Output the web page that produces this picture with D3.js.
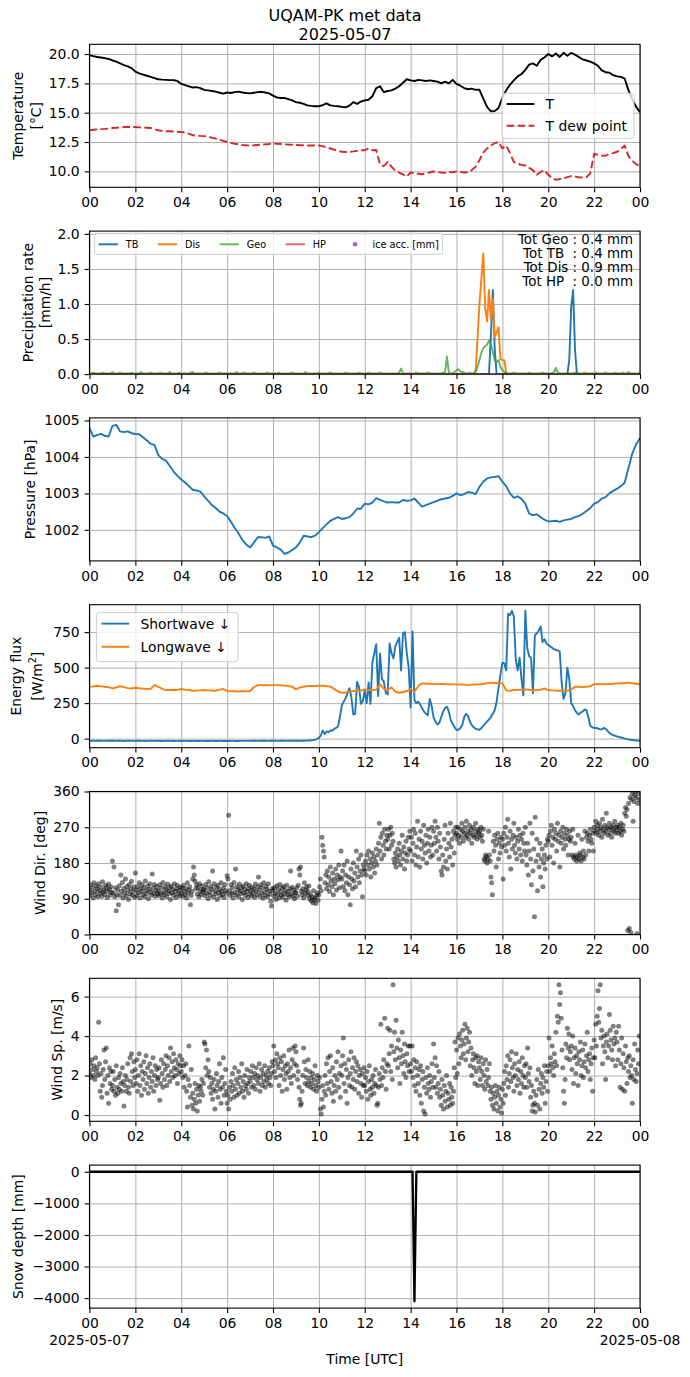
<!DOCTYPE html>
<html>
<head>
<meta charset="utf-8">
<script src="https://cdn.jsdelivr.net/npm/d3@7"></script>
<style>
  body { margin: 0; background: #fff; }
  svg text { font-family: "DejaVu Sans", sans-serif; fill: #000; }
</style>
</head>
<body>
<div id="chart"></div>
<script>
// ---- data: one row per hour, samples evenly spaced inside the hour ----

// air temperature [°C], 10-min
const tempC = [
  [19.90,19.82,19.75,19.70,19.65,19.58],[19.45,19.35,19.20,19.05,18.95,18.80],
  [18.50,18.35,18.25,18.15,18.05,17.95],[17.85,17.82,17.80,17.78,17.78,17.70],
  [17.45,17.35,17.25,17.15,17.18,17.10],[16.95,16.90,16.85,16.80,16.70,16.62],
  [16.72,16.68,16.75,16.80,16.72,16.68],[16.65,16.70,16.75,16.78,16.72,16.65],
  [16.45,16.30,16.25,16.25,16.15,16.05],[15.90,15.85,15.75,15.62,15.58,15.55],
  [15.55,15.65,15.80,15.62,15.58,15.55],[15.50,15.45,15.60,15.90,15.75,15.95],
  [16.05,16.10,16.40,17.10,17.25,16.75],[16.85,16.90,17.05,17.25,17.55,17.85],
  [17.75,17.70,17.80,17.75,17.70,17.75],[17.70,17.65,17.50,17.65,17.50,17.80],
  [17.45,17.30,17.10,17.00,17.05,16.95],[16.95,16.20,15.50,15.12,15.15,15.40],
  [16.30,16.90,17.40,17.75,18.10,18.30],[18.65,19.10,19.20,19.00,19.50,19.70],
  [20.00,19.80,20.05,19.75,20.10,19.85],[20.10,19.95,19.75,19.55,19.45,19.35],
  [19.20,19.00,18.60,18.45,18.40,18.20],[18.10,18.05,17.90,16.90,16.10,15.50],
  [15.05]
];
// dew point [°C], 10-min
const dewC = [
  [13.50,13.55,13.58,13.60,13.62,13.65],[13.70,13.72,13.75,13.78,13.78,13.77],
  [13.78,13.75,13.73,13.72,13.70,13.60],[13.50,13.45,13.42,13.42,13.40,13.38],
  [13.36,13.30,13.20,13.08,13.05,13.02],[13.00,12.95,12.88,12.80,12.70,12.60],
  [12.50,12.42,12.35,12.30,12.25,12.22],[12.20,12.22,12.25,12.28,12.30,12.33],
  [12.37,12.35,12.33,12.30,12.28,12.27],[12.25,12.23,12.22,12.20,12.20,12.20],
  [12.20,12.15,12.05,11.95,11.85,11.75],[11.67,11.65,11.67,11.70,11.75,11.80],
  [11.80,11.95,11.80,11.82,10.60,10.45],[10.80,10.40,10.05,9.90,9.75,9.55],
  [9.90,9.85,9.80,9.75,9.85,9.90],[10.00,9.95,9.90,9.88,9.95,9.92],
  [10.00,9.95,9.90,9.92,10.10,10.40],[10.95,11.60,11.95,12.20,12.40,12.50],
  [11.95,12.20,11.55,10.80,10.65,10.55],[10.50,10.30,10.10,9.70,9.95,10.10],
  [9.70,9.45,9.27,9.35,9.40,9.50],[9.60,9.55,9.50,9.47,9.52,9.83],
  [11.50,11.40,11.35,11.33,11.50,11.55],[11.67,11.90,12.20,11.30,10.90,10.60],
  [10.45]
];

// precipitation rate [mm/h], 5-min
const precipTB = [
  [0,0,0,0,0,0,0,0,0,0,0,0],[0,0,0,0,0,0,0,0,0,0,0,0],[0,0,0,0,0,0,0,0,0,0,0,0],
  [0,0,0,0,0,0,0,0,0,0,0,0],[0,0,0,0,0,0,0,0,0,0,0,0],[0,0,0,0,0,0,0,0,0,0,0,0],
  [0,0,0,0,0,0,0,0,0,0,0,0],[0,0,0,0,0,0,0,0,0,0,0,0],[0,0,0,0,0,0,0,0,0,0,0,0],
  [0,0,0,0,0,0,0,0,0,0,0,0],[0,0,0,0,0,0,0,0,0,0,0,0],[0,0,0,0,0,0,0,0,0,0,0,0],
  [0,0,0,0,0,0,0,0,0,0,0,0],[0,0,0,0,0,0,0,0,0,0,0,0],[0,0,0,0,0,0,0,0,0,0,0,0],
  [0,0,0,0,0,0,0,0,0,0,0,0],[0,0,0,0,0,0,0,0,0,0,0,0],
  [0,0,0,0,0,0,0.55,1.2,0.35,0,0,0],
  [0,0,0,0,0,0,0,0,0,0,0,0],[0,0,0,0,0,0,0,0,0,0,0,0],
  [0,0,0,0,0,0,0,0,0,0,0,0.2],[0.95,1.2,0.35,0,0,0,0,0,0,0,0,0],
  [0,0,0,0,0,0,0,0,0,0,0,0],[0,0,0,0,0,0,0,0,0,0,0,0],
  [0]
];
const precipDis = [
  [0,0,0,0,0,0,0,0,0,0,0,0],[0,0,0,0,0,0,0,0,0,0,0,0],[0,0,0,0,0,0,0,0,0,0,0,0],
  [0,0,0,0,0,0,0,0,0,0,0,0],[0,0,0,0,0,0,0,0,0,0,0,0],[0,0,0,0,0,0,0,0,0,0,0,0],
  [0,0,0,0,0,0,0,0,0,0,0,0],[0,0,0,0,0,0,0,0,0,0,0,0],[0,0,0,0,0,0,0,0,0,0,0,0],
  [0,0,0,0,0,0,0,0,0,0,0,0],[0,0,0,0,0,0,0,0,0,0,0,0],[0,0,0,0,0,0,0,0,0,0,0,0],
  [0,0,0,0,0,0,0,0,0,0,0,0],[0,0,0,0,0,0,0,0,0,0,0,0],[0,0,0,0,0,0,0,0,0,0,0,0],
  [0,0,0,0,0,0,0,0,0,0,0,0],
  [0,0,0,0,0,0,0,0,0,0,0.05,0.5],
  [1.0,1.35,1.72,0.95,0.75,1.2,0.77,1.08,0.53,0.6,0.67,0.21],
  [0.2,0.2,0.02,0,0,0,0,0,0,0,0,0],
  [0,0,0,0,0,0,0,0,0,0,0,0],[0,0,0,0,0,0,0,0,0,0,0,0],[0,0,0,0,0,0,0,0,0,0,0,0],
  [0,0,0,0,0,0,0,0,0,0,0,0],[0,0,0,0,0,0,0,0,0,0,0,0],
  [0]
];
const precipGeo = [
  [0.01,0.01,0.02,0.01,0.01,0.01,0.01,0.02,0.01,0.01,0.01,0.01],
  [0.03,0.01,0.01,0.01,0.02,0.01,0.01,0.01,0.01,0.01,0.02,0.01],
  [0.01,0.01,0.01,0.03,0.01,0.01,0.01,0.01,0.02,0.01,0.01,0.01],
  [0.01,0.02,0.01,0.01,0.01,0.01,0.03,0.01,0.01,0.01,0.01,0.02],
  [0.01,0.01,0.01,0.01,0.01,0.02,0.03,0.01,0.01,0.01,0.01,0.01],
  [0.01,0.02,0.01,0.01,0.01,0.01,0.01,0.01,0.02,0.01,0.01,0.01],
  [0.01,0.01,0.01,0.01,0.01,0.03,0.01,0.01,0.01,0.02,0.01,0.01],
  [0.01,0.01,0.02,0.01,0.01,0.01,0.01,0.01,0.01,0.02,0.01,0.01],
  [0.01,0.01,0.01,0.02,0.01,0.01,0.01,0.01,0.01,0.01,0.02,0.01],
  [0.01,0.01,0.01,0.01,0.01,0.03,0.01,0.01,0.01,0.01,0.01,0.01],
  [0.02,0.01,0.01,0.01,0.01,0.01,0.02,0.01,0.01,0.01,0.01,0.01],
  [0.01,0.01,0.02,0.01,0.01,0.01,0.01,0.01,0.01,0.02,0.01,0.01],
  [0.01,0.01,0.02,0.01,0.01,0.01,0.01,0.01,0.02,0.01,0.01,0.01],
  [0.01,0.01,0.01,0.01,0.01,0.01,0.02,0.08,0.01,0.01,0.01,0.01],
  [0.01,0.01,0.01,0.02,0.01,0.01,0.01,0.01,0.01,0.02,0.01,0.01],
  [0.01,0.01,0.01,0.01,0.01,0.02,0.02,0.25,0.02,0.01,0.01,0.03],
  [0.05,0.07,0.04,0.03,0.02,0.01,0.01,0.02,0.01,0.01,0.03,0.1],
  [0.2,0.3,0.37,0.4,0.42,0.48,0.42,0.32,0.2,0.17,0.2,0.1],
  [0.06,0.03,0.01,0.01,0.01,0.01,0.02,0.01,0.01,0.01,0.01,0.01],
  [0.01,0.01,0.02,0.01,0.01,0.01,0.01,0.01,0.01,0.02,0.01,0.01],
  [0.01,0.01,0.01,0.03,0.09,0.02,0.01,0.01,0.01,0.01,0.01,0.01],
  [0.01,0.01,0.02,0.01,0.01,0.01,0.01,0.02,0.01,0.01,0.01,0.01],
  [0.01,0.02,0.01,0.01,0.01,0.01,0.02,0.01,0.01,0.01,0.01,0.02],
  [0.01,0.01,0.01,0.02,0.01,0.01,0.03,0.01,0.01,0.01,0.01,0.01],
  [0.01]
];
const precipHP = [
  [0,0,0,0,0,0,0,0,0,0,0,0],[0,0,0,0,0,0,0,0,0,0,0,0],[0,0,0,0,0,0,0,0,0,0,0,0],
  [0,0,0,0,0,0,0,0,0,0,0,0],[0,0,0,0,0,0,0,0,0,0,0,0],[0,0,0,0,0,0,0,0,0,0,0,0],
  [0,0,0,0,0,0,0,0,0,0,0,0],[0,0,0,0,0,0,0,0,0,0,0,0],[0,0,0,0,0,0,0,0,0,0,0,0],
  [0,0,0,0,0,0,0,0,0,0,0,0],[0,0,0,0,0,0,0,0,0,0,0,0],[0,0,0,0,0,0,0,0,0,0,0,0],
  [0,0,0,0,0,0,0,0,0,0,0,0],[0,0,0,0,0,0,0,0,0,0,0,0],[0,0,0,0,0,0,0,0,0,0,0,0],
  [0,0,0,0,0,0,0,0,0,0,0,0],[0,0,0,0,0,0,0,0,0,0,0,0],[0,0,0,0,0,0,0,0,0,0,0,0],
  [0,0,0,0,0,0,0,0,0,0,0,0],[0,0,0,0,0,0,0,0,0,0,0,0],[0,0,0,0,0,0,0,0,0,0,0,0],
  [0,0,0,0,0,0,0,0,0,0,0,0],[0,0,0,0,0,0,0,0,0,0,0,0],[0,0,0,0,0,0,0,0,0,0,0,0],
  [0]
];
const precipTotals = ['Tot Geo : 0.4 mm', 'Tot TB  : 0.4 mm', 'Tot Dis : 0.9 mm', 'Tot HP  : 0.0 mm'];

// station pressure [hPa], 10-min
const pressure = [
  [1004.79,1004.56,1004.60,1004.63,1004.58,1004.56],[1004.85,1004.88,1004.70,1004.68,1004.70,1004.65],
  [1004.63,1004.62,1004.54,1004.45,1004.36,1004.33],[1004.05,1003.95,1003.90,1003.75,1003.60,1003.48],
  [1003.38,1003.30,1003.20,1003.10,1003.08,1003.05],[1002.92,1002.80,1002.68,1002.60,1002.50,1002.45],
  [1002.38,1002.22,1002.05,1001.90,1001.72,1001.60],[1001.52,1001.65,1001.80,1001.80,1001.78,1001.82],
  [1001.57,1001.52,1001.46,1001.34,1001.38,1001.45],[1001.52,1001.65,1001.84,1001.82,1001.80,1001.84],
  [1001.94,1002.05,1002.15,1002.25,1002.30,1002.35],[1002.30,1002.32,1002.35,1002.45,1002.58,1002.58],
  [1002.72,1002.70,1002.75,1002.87,1002.82,1002.78],[1002.75,1002.76,1002.75,1002.75,1002.82,1002.80],
  [1002.81,1002.86,1002.75,1002.64,1002.68,1002.72],[1002.76,1002.80,1002.84,1002.86,1002.88,1002.93],
  [1003.00,1002.95,1002.98,1003.04,1003.02,1002.98],[1003.18,1003.32,1003.41,1003.44,1003.45,1003.47],
  [1003.32,1003.20,1003.00,1002.88,1002.92,1002.85],[1002.72,1002.45,1002.40,1002.43,1002.35,1002.28],
  [1002.23,1002.24,1002.25,1002.22,1002.26,1002.28],[1002.30,1002.35,1002.38,1002.44,1002.52,1002.60],
  [1002.72,1002.76,1002.86,1002.90,1003.00,1003.07],[1003.13,1003.20,1003.30,1003.70,1004.10,1004.35],
  [1004.52]
];

// incoming shortwave [W/m2], 5-min
const shortwave = [
  [-14,-15,-15,-16,-15,-14,-15,-16,-16,-15,-15,-14],[-15,-16,-16,-15,-15,-16,-17,-16,-15,-15,-16,-16],
  [-16,-15,-15,-16,-16,-17,-16,-16,-15,-16,-16,-15],[-16,-17,-17,-16,-16,-15,-16,-16,-17,-16,-16,-16],
  [-17,-16,-16,-16,-17,-17,-16,-16,-17,-17,-16,-16],[-16,-17,-17,-16,-16,-16,-17,-17,-16,-16,-17,-17],
  [-17,-17,-16,-16,-17,-17,-17,-16,-16,-16,-16,-16],[-16,-16,-15,-15,-16,-16,-15,-15,-15,-16,-16,-15],
  [-15,-15,-16,-16,-15,-15,-15,-16,-16,-15,-15,-15],[-15,-15,-16,-15,-15,-14,-14,-13,-12,-10,-7,-3],
  [5,22,58,32,50,45,58,55,68,75,85,150],
  [235,260,285,320,355,290,170,175,400,365,245,265],
  [340,250,395,245,540,600,665,300,600,420,400,320],
  [310,670,600,565,650,680,710,480,740,750,600,500],
  [220,755,270,250,260,240,215,190,175,165,280,230],
  [150,120,100,110,150,190,215,225,190,130,105,80],
  [60,62,75,95,150,175,160,120,95,80,70,65],
  [62,75,90,105,120,135,150,175,200,260,360,450],
  [535,530,480,880,870,900,860,560,480,570,420,305],
  [900,640,580,570,320,730,740,760,790,680,700,670],
  [660,650,640,630,625,620,615,400,280,320,500,420],
  [250,230,200,180,170,185,190,205,200,150,90,80],
  [75,75,72,65,65,75,70,55,40,30,25,20],
  [15,12,8,5,0,-2,-5,-8,-10,-12,-13,-14],
  [-15]
];
// incoming longwave [W/m2], 10-min
const longwave = [
  [365,368,372,368,365,362],[354,360,370,362,355,354],[358,355,352,349,350,378],
  [365,350,342,342,342,343],[349,345,342,337,338,340],[342,340,338,337,345,349],
  [336,334,333,332,333,334],[335,362,377,377,376,377],[377,377,376,373,370,365],
  [347,360,365,370,370,371],[372,372,370,366,350,332],[323,325,330,335,337,338],
  [347,342,342,345,382,350],[342,361,330,323,328,335],[349,330,370,389,388,386],
  [384,384,385,384,383,382],[382,381,380,377,380,382],[382,385,390,394,392,390],
  [389,340,337,342,343,345],[347,344,342,341,345,354],[342,340,338,337,336,338],
  [347,365,365,363,365,370],[384,385,384,384,385,386],[389,390,392,394,390,386],
  [382]
];

// wind direction [deg], 2-min
const windDir = [
  [112,98,125,105,118,92,130,108,100,122,115,95,128,110,104,119,96,133,107,112,101,124,118,93,109,127,114,99,120,106],
  [185,105,170,95,118,60,100,112,75,123,98,150,109,131,92,116,104,140,97,121,110,88,126,102,115,134,99,108,120,94],
  [155,112,98,120,105,130,92,115,108,125,100,118,95,135,110,103,122,90,114,128,107,99,152,117,104,126,96,111,121,102],
  [110,98,125,104,117,92,131,106,100,120,113,95,127,109,103,118,88,122,105,114,99,128,108,93,116,124,102,111,97,119],
  [105,118,96,124,109,100,115,92,130,104,112,120,75,98,108,140,170,150,135,115,125,102,118,95,128,110,100,122,107,114],
  [112,98,126,104,118,90,133,107,99,121,114,160,95,128,109,102,119,88,124,106,113,97,130,108,101,117,93,126,110,104],
  [148,140,300,110,98,125,104,118,92,131,106,165,100,120,113,95,127,109,103,118,88,122,105,114,99,128,108,93,116,124],
  [102,111,97,119,105,115,94,127,108,100,120,145,112,96,125,104,118,91,130,107,99,121,114,95,128,109,102,84,72,116],
  [110,96,118,104,88,123,101,113,92,126,107,99,117,94,121,103,111,86,124,100,108,95,115,160,102,119,97,112,90,106],
  [105,118,96,124,165,150,170,109,100,115,92,130,104,112,120,98,108,122,90,100,85,95,80,110,88,92,78,98,105,86],
  [100,120,140,110,245,225,210,195,130,150,115,160,125,145,108,170,135,120,155,100,140,128,165,112,150,138,175,118,145,210],
  [140,160,120,175,110,150,130,185,100,145,125,75,165,140,115,180,135,155,120,210,170,145,190,130,160,200,150,95,175,165],
  [160,185,150,200,175,210,165,190,145,180,205,170,195,155,185,215,175,200,230,280,210,245,190,255,225,200,265,235,215,250],
  [240,265,215,250,270,225,255,235,190,180,205,170,195,215,185,230,200,175,210,250,190,220,165,205,235,185,200,245,215,260],
  [210,245,185,230,265,200,255,175,220,285,195,240,170,260,215,235,190,275,225,205,250,180,230,265,210,245,195,225,270,200],
  [260,230,285,245,210,270,235,190,255,220,160,150,200,170,240,275,185,215,165,255,230,195,280,220,240,175,260,205,250,270],
  [255,240,270,250,230,265,245,280,260,235,255,270,245,285,250,260,240,275,255,265,230,250,270,245,260,280,250,240,265,255],
  [260,245,270,250,235,265,190,185,200,195,180,190,260,200,185,145,130,100,235,210,250,225,170,240,255,190,230,205,245,220],
  [240,140,255,225,270,210,245,290,230,195,260,165,240,215,250,280,225,205,245,190,235,265,215,250,200,240,185,255,230,210],
  [270,200,175,230,150,210,280,190,125,255,160,215,45,295,185,240,110,200,170,230,145,190,215,120,180,200,165,225,190,240],
  [235,250,195,260,275,225,245,180,265,240,255,210,280,235,250,170,260,230,245,270,215,255,240,225,265,250,200,240,260,235],
  [245,200,265,195,190,230,200,185,195,250,190,205,200,185,240,195,210,190,260,200,245,255,235,210,250,265,240,230,255,210],
  [270,260,285,255,275,265,250,280,260,270,245,290,265,255,275,260,305,270,250,265,280,255,270,245,265,275,260,285,255,270],
  [265,275,255,270,260,280,250,265,275,260,305,320,298,315,10,330,15,345,5,340,355,285,335,350,360,345,2,330,355,340]
];
// wind speed [m/s], 2-min
const windSpd = [
  [2.1,2.6,1.9,2.8,2.3,2.0,2.5,1.8,2.9,2.2,2.4,2.0,4.7,2.6,1.2,2.1,0.9,1.5,2.3,3.3,1.8,2.7,3.4,1.1,2.0,0.6,2.4,1.6,2.2,1.3],
  [1.5,2.2,1.2,1.8,1.0,2.5,1.4,1.1,1.9,1.3,2.1,1.6,1.2,2.4,1.7,0.45,1.5,2.0,1.2,1.8,2.6,1.4,1.1,2.9,1.7,3.1,2.2,1.5,2.7,1.9],
  [2.3,1.6,2.8,1.2,2.0,3.1,1.5,2.5,1.0,2.2,1.8,2.7,1.3,2.1,3.0,1.6,2.4,1.1,1.9,2.6,1.4,2.2,1.7,2.9,1.2,2.0,2.5,1.5,2.3,1.8],
  [1.9,2.4,0.75,1.6,2.8,2.1,1.4,2.6,1.8,2.3,3.0,1.5,2.5,2.0,2.9,1.7,3.4,2.2,2.7,1.9,3.1,2.4,2.0,2.8,2.3,1.6,2.6,2.1,3.0,2.5],
  [2.2,2.8,1.9,2.5,1.4,2.0,2.6,1.2,0.4,1.8,3.5,1.5,0.9,2.3,0.5,1.1,0.3,0.8,1.6,0.6,1.3,0.2,1.0,1.5,0.7,1.4,1.2,1.8,1.0,1.6],
  [3.7,3.6,2.4,3.3,2.0,2.8,2.2,1.4,1.9,1.1,1.6,0.8,1.3,1.8,0.3,1.2,2.1,1.5,0.9,1.7,2.6,1.3,0.6,1.9,1.4,2.9,1.0,1.6,2.3,1.2],
  [0.6,1.0,0.3,1.4,0.8,1.7,1.2,2.1,1.5,0.9,2.4,1.3,1.8,1.0,1.6,2.2,1.1,1.9,1.4,2.6,1.2,1.7,0.9,2.0,1.5,1.3,2.3,1.6,1.1,1.9],
  [1.7,2.2,1.4,2.5,1.9,1.5,2.1,1.3,2.4,1.8,2.0,1.6,2.6,1.2,1.9,2.3,1.5,2.1,1.7,2.5,1.4,2.0,1.8,2.2,1.6,2.4,1.9,1.5,2.1,2.7],
  [2.5,3.5,2.2,2.8,1.9,3.1,2.6,2.4,1.5,2.9,2.0,2.7,1.2,2.3,3.0,1.8,2.5,2.1,1.3,2.6,2.2,3.3,1.9,2.4,1.6,2.8,3.4,2.0,2.6,3.5],
  [3.2,2.5,1.8,2.2,1.4,0.8,0.5,0.6,1.2,2.0,3.4,2.7,1.6,2.3,1.9,1.5,2.8,1.7,2.2,1.4,1.9,1.6,2.1,1.3,1.8,2.5,1.5,1.2,2.0,1.7],
  [1.4,1.9,0.3,0.05,0.8,1.5,0.4,1.2,2.0,1.0,2.6,1.6,2.9,1.3,2.2,3.0,1.7,1.1,2.4,0.7,1.5,2.0,1.2,2.7,1.8,3.2,1.4,2.1,0.9,2.5],
  [2.0,3.0,3.9,1.6,2.6,1.2,2.3,0.6,1.9,2.8,1.5,2.1,3.2,1.4,2.4,1.8,2.9,1.3,2.2,2.7,1.7,2.5,1.1,2.0,2.3,1.6,0.9,2.1,1.5,2.4],
  [1.5,1.9,1.2,2.2,0.8,1.7,2.5,1.3,1.0,1.8,1.4,2.0,1.1,1.6,2.3,1.5,0.5,0.6,1.4,2.1,1.8,4.6,1.5,2.4,1.9,2.8,4.9,2.2,1.3,2.6],
  [4.4,2.5,3.1,4.3,2.2,3.5,1.8,6.6,3.2,4.2,2.8,4.8,3.4,2.4,3.8,2.9,1.6,3.3,2.6,4.2,3.0,2.1,3.6,2.7,1.9,3.1,2.5,3.5,2.2,3.5],
  [2.6,2.2,3.5,1.9,2.8,1.5,2.4,1.2,2.7,2.0,1.6,2.3,1.0,2.5,0.6,1.8,2.2,0.2,1.4,0.05,1.9,1.1,2.4,1.6,1.3,2.0,0.9,1.7,2.6,1.4],
  [3.6,1.9,2.9,1.4,2.5,1.1,1.6,2.2,0.9,1.3,0.5,1.8,1.0,0.3,1.5,0.7,1.2,2.0,0.4,1.1,0.8,1.6,0.5,1.4,0.9,0.6,1.2,2.4,3.7,1.9],
  [3.3,2.1,3.9,2.6,4.1,3.5,2.9,3.8,4.3,3.1,3.6,4.6,2.8,3.9,4.4,3.2,3.7,4.2,2.5,3.4,2.0,2.8,3.1,2.4,1.6,2.9,2.2,3.0,1.5,2.7],
  [2.4,1.8,2.9,2.2,1.5,2.6,2.0,1.3,2.8,1.7,2.3,1.5,1.9,2.6,1.2,0.8,1.4,0.5,1.1,0.3,0.9,1.5,0.6,1.2,0.2,1.0,1.4,0.4,0.8,0.1],
  [1.3,0.6,1.6,2.2,1.0,2.5,1.8,3.0,1.4,2.1,2.8,1.7,3.2,2.4,1.9,1.2,2.6,2.0,3.1,1.5,2.3,1.8,2.7,1.1,2.2,1.6,2.9,2.0,1.4,2.5],
  [1.9,2.6,1.4,3.4,2.1,1.7,2.4,0.9,1.5,0.2,0.5,1.2,0.6,0.15,1.0,1.8,0.5,2.3,1.3,0.3,1.6,2.1,1.1,1.9,1.4,2.5,0.6,1.7,2.2,1.2],
  [2.5,3.9,2.2,2.9,2.6,3.5,2.4,2.0,3.1,2.7,4.2,2.5,5.0,4.7,6.6,5.6,6.2,4.9,3.3,2.4,1.2,0.6,1.8,3.6,2.9,4.4,3.4,4.1,2.8,3.2],
  [3.5,2.3,4.0,1.6,2.9,3.4,2.1,3.0,2.6,1.5,3.2,2.8,3.7,2.0,2.5,3.3,1.9,2.7,3.6,2.4,3.0,4.2,2.2,2.8,3.1,1.8,2.6,3.4,1.2,2.9],
  [3.8,2.9,4.6,3.5,5.0,6.3,4.7,5.4,6.6,3.9,4.3,2.6,3.5,4.0,3.2,1.8,3.7,4.1,2.9,3.5,5.1,4.3,3.8,3.3,2.8,4.5,3.6,3.9,2.5,4.2],
  [3.7,2.8,4.5,3.3,1.4,2.6,3.9,1.3,3.1,2.4,1.2,3.5,2.7,1.6,2.9,2.2,3.0,1.9,2.5,2.0,0.6,2.8,1.8,3.6,2.3,1.7,2.1,3.3,2.6,4.0]
];

// snow depth [mm], 5-min
const snowDepth = [
  [0,0,0,0,0,0,0,0,0,0,0,0],[0,0,0,0,0,0,0,0,0,0,0,0],[0,0,0,0,0,0,0,0,0,0,0,0],
  [0,0,0,0,0,0,0,0,0,0,0,0],[0,0,0,0,0,0,0,0,0,0,0,0],[0,0,0,0,0,0,0,0,0,0,0,0],
  [0,0,0,0,0,0,0,0,0,0,0,0],[0,0,0,0,0,0,0,0,0,0,0,0],[0,0,0,0,0,0,0,0,0,0,0,0],
  [0,0,0,0,0,0,0,0,0,0,0,0],[0,0,0,0,0,0,0,0,0,0,0,0],[0,0,0,0,0,0,0,0,0,0,0,0],
  [0,0,0,0,0,0,0,0,0,0,0,0],[0,0,0,0,0,0,0,0,0,0,0,0],
  [0,0,-4100,0,0,0,0,0,0,0,0,0],
  [0,0,0,0,0,0,0,0,0,0,0,0],[0,0,0,0,0,0,0,0,0,0,0,0],[0,0,0,0,0,0,0,0,0,0,0,0],
  [0,0,0,0,0,0,0,0,0,0,0,0],[0,0,0,0,0,0,0,0,0,0,0,0],[0,0,0,0,0,0,0,0,0,0,0,0],
  [0,0,0,0,0,0,0,0,0,0,0,0],[0,0,0,0,0,0,0,0,0,0,0,0],[0,0,0,0,0,0,0,0,0,0,0,0],
  [0]
];

// axis limits and tick values
const yLimits = [[8.64, 20.83], [0, 2.04], [1001.15, 1005.07], [-64, 943], [0, 360], [-0.32, 6.93], [-4316, 211]];
const yTicks = [[10, 12.5, 15, 17.5, 20], [0, 0.5, 1, 1.5, 2], [1002, 1003, 1004, 1005],
                [0, 250, 500, 750], [0, 90, 180, 270, 360], [0, 2, 4, 6], [-4000, -3000, -2000, -1000, 0]];

// ---- layout ----
const W = 690, H = 1377;
const X0 = 89.5, X1 = 640, TOP0 = 44.3, STEP = 186.8, PH = 143;
const FONT = '"DejaVu Sans", sans-serif';
const FS = 13.9;
const day0 = Date.UTC(2025, 4, 7), day1 = Date.UTC(2025, 4, 8);

const svg = d3.select('#chart').append('svg')
    .attr('width', W).attr('height', H)
    .attr('font-family', FONT);

const x = d3.scaleUtc().domain([day0, day1]).range([X0, X1]);

// turn hourly rows into {t, v} points
function series(rows) {
    return rows.flatMap((r, h) => r.map((v, j) => ({ t: new Date(day0 + (h + j / r.length) * 3600e3), v: v })));
}

function panel(i, fmt) {
    const top = TOP0 + STEP * i, bot = top + PH;
    const y = d3.scaleLinear().domain(yLimits[i]).range([bot, top]);
    const g = svg.append('g');

    svg.append('clipPath').attr('id', 'clip' + i)
        .append('rect').attr('x', X0).attr('y', top).attr('width', X1 - X0).attr('height', PH);

    // grid
    const gx = g.append('g').attr('transform', `translate(0,${bot})`)
        .call(d3.axisBottom(x).ticks(d3.utcHour.every(2)).tickSize(-PH).tickFormat(''));
    const gy = g.append('g').attr('transform', `translate(${X0},0)`)
        .call(d3.axisLeft(y).tickValues(yTicks[i]).tickSize(-(X1 - X0)).tickFormat(''));
    [gx, gy].forEach(a => {
        a.select('.domain').remove();
        a.selectAll('line').attr('stroke', '#b0b0b0').attr('stroke-width', 1);
    });

    const plot = g.append('g').attr('clip-path', `url(#clip${i})`);

    // axes
    const ax = g.append('g').attr('transform', `translate(0,${bot})`)
        .call(d3.axisBottom(x).ticks(d3.utcHour.every(2)).tickFormat(d3.utcFormat('%H')).tickSize(4.9).tickPadding(4.9));
    const ay = g.append('g').attr('transform', `translate(${X0},0)`)
        .call(d3.axisLeft(y).tickValues(yTicks[i]).tickFormat(fmt).tickSize(4.9).tickPadding(4.9));
    [ax, ay].forEach(a => {
        a.attr('font-family', FONT).attr('font-size', FS);
        a.select('.domain').remove();
        a.selectAll('line').attr('stroke', '#000').attr('stroke-width', 1.1);
        a.selectAll('text').attr('fill', '#000');
    });

    g.append('rect').attr('x', X0).attr('y', top).attr('width', X1 - X0).attr('height', PH)
        .attr('fill', 'none').attr('stroke', '#000').attr('stroke-width', 1.1);

    return { g, plot, y, top, bot };
}

function line(p, data, color, opts = {}) {
    p.plot.append('path').datum(series(data))
        .attr('fill', 'none')
        .attr('stroke', color)
        .attr('stroke-width', opts.w || 1.9)
        .attr('stroke-opacity', opts.op || 1)
        .attr('stroke-dasharray', opts.dash || null)
        .attr('stroke-linejoin', 'round')
        .attr('d', d3.line().x(d => x(d.t)).y(d => p.y(d.v)));
}

function dots(p, data) {
    p.plot.selectAll('circle').data(series(data)).join('circle')
        .attr('cx', d => x(d.t)).attr('cy', d => p.y(d.v))
        .attr('r', 2.5).attr('fill', '#000').attr('fill-opacity', 0.5);
}

function ylabel(p, lines, xs) {
    const cy = (p.top + p.bot) / 2;
    lines.forEach((s, k) => {
        const t = svg.append('text')
            .attr('transform', `translate(${xs[k]},${cy}) rotate(-90)`)
            .attr('text-anchor', 'middle').attr('dominant-baseline', 'central')
            .attr('font-size', FS);
        if (Array.isArray(s)) {
            t.append('tspan').text(s[0]);
            t.append('tspan').attr('font-size', 9.7).attr('dy', -5.5).text(s[1]);
            t.append('tspan').attr('dy', 5.5).text(s[2]);
        } else {
            t.text(s);
        }
    });
}

// ---- title ----
svg.append('text').attr('x', W / 2).attr('y', 15.6).attr('text-anchor', 'middle')
    .attr('dominant-baseline', 'central').attr('font-size', 16).text('UQAM-PK met data');
svg.append('text').attr('x', W / 2).attr('y', 34.4).attr('text-anchor', 'middle')
    .attr('dominant-baseline', 'central').attr('font-size', 16).text('2025-05-07');

// ---- 1: temperature ----
const p1 = panel(0, d3.format('.1f'));
line(p1, tempC, '#000');
line(p1, dewC, '#d62728', { dash: '7.7,3.3' });
ylabel(p1, ['Temperature', '[°C]'], [18.3, 36]);
{
    const lg = p1.g.append('g');
    lg.append('rect').attr('x', 502).attr('y', 93.3).attr('width', 132).attr('height', 45).attr('rx', 3)
        .attr('fill', '#fff').attr('fill-opacity', 0.8).attr('stroke', '#cccccc');
    const items = [['T', '#000', null, 104], ['T dew point', '#d62728', '7.7,3.3', 125.7]];
    items.forEach(([lab, c, dash, yy]) => {
        lg.append('line').attr('x1', 506.6).attr('x2', 534.4).attr('y1', yy).attr('y2', yy)
            .attr('stroke', c).attr('stroke-width', 1.9).attr('stroke-dasharray', dash);
        lg.append('text').attr('x', 545.6).attr('y', yy).attr('dominant-baseline', 'central')
            .attr('font-size', FS).text(lab);
    });
}

// ---- 2: precipitation ----
const p2 = panel(1, d3.format('.1f'));
const precipSeries = [
    ['TB', precipTB, '#1f77b4', 1],
    ['Dis', precipDis, '#ff7f0e', 1],
    ['Geo', precipGeo, '#2ca02c', 0.75],
    ['HP', precipHP, '#d62728', 0.7]
];
precipSeries.forEach(([lab, d, c, op]) => line(p2, d, c, { op: op }));
ylabel(p2, ['Precipitation rate', '[mm/h]'], [27.5, 44.7]);
{
    const lg = p2.g.append('g');
    const box = lg.append('rect').attr('x', 94.7).attr('y', 233.3).attr('height', 21).attr('rx', 2)
        .attr('fill', '#fff').attr('fill-opacity', 0.8).attr('stroke', '#cccccc');
    const lfs = 9.7, hl = 19.4, pad = 7.8, colsp = 19.4, cy = 244.3;
    let cx = 94.7 + 3.9;
    const entries = precipSeries.map(s => [s[0], s[2], s[3], 'line']).concat([['ice acc. [mm]', '#9467bd', 1, 'dot']]);
    entries.forEach(([lab, c, op, kind]) => {
        if (kind === 'line') {
            lg.append('line').attr('x1', cx).attr('x2', cx + hl).attr('y1', cy).attr('y2', cy)
                .attr('stroke', c).attr('stroke-opacity', op).attr('stroke-width', 1.9);
        } else {
            lg.append('circle').attr('cx', cx + hl / 2).attr('cy', cy).attr('r', 2.3).attr('fill', c);
        }
        const t = lg.append('text').attr('x', cx + hl + pad).attr('y', cy)
            .attr('dominant-baseline', 'central').attr('font-size', lfs).text(lab);
        cx += hl + pad + t.node().getComputedTextLength() + colsp;
    });
    box.attr('width', cx - colsp + 3.9 - 94.7);
}
precipTotals.forEach((s, k) => {
    p2.g.append('text').attr('x', 633).attr('y', 239.6 + 14 * k)
        .attr('text-anchor', 'end').attr('dominant-baseline', 'central')
        .attr('font-size', 13.4).style('white-space', 'pre').text(s);
});

// ---- 3: pressure ----
const p3 = panel(2, d3.format('d'));
line(p3, pressure, '#1f77b4');
ylabel(p3, ['Pressure [hPa]'], [29.7]);

// ---- 4: radiation ----
const p4 = panel(3, d3.format('d'));
line(p4, shortwave, '#1f77b4');
line(p4, longwave, '#ff7f0e');
ylabel(p4, ['Energy flux', ['[W/m', '2', ']']], [16, 37]);
{
    const lg = p4.g.append('g');
    lg.append('rect').attr('x', 96.4).attr('y', 612.4).attr('width', 141.6).attr('height', 49.3).attr('rx', 3)
        .attr('fill', '#fff').attr('fill-opacity', 0.8).attr('stroke', '#cccccc');
    [['Shortwave ↓', '#1f77b4', 623.6], ['Longwave ↓', '#ff7f0e', 646.8]].forEach(([lab, c, yy]) => {
        lg.append('line').attr('x1', 101.5).attr('x2', 129.3).attr('y1', yy).attr('y2', yy)
            .attr('stroke', c).attr('stroke-width', 1.9);
        lg.append('text').attr('x', 140.5).attr('y', yy).attr('dominant-baseline', 'central')
            .attr('font-size', FS).text(lab);
    });
}

// ---- 5: wind direction ----
const p5 = panel(4, d3.format('d'));
dots(p5, windDir);
ylabel(p5, ['Wind Dir. [deg]'], [39.6]);

// ---- 6: wind speed ----
const p6 = panel(5, d3.format('d'));
dots(p6, windSpd);
ylabel(p6, ['Wind Sp. [m/s]'], [57.3]);

// ---- 7: snow depth ----
const p7 = panel(6, d3.format('d'));
line(p7, snowDepth, '#000', { w: 2.3 });
ylabel(p7, ['Snow depth [mm]'], [17.6]);

// date labels and x title under the last panel
[[day0, '2025-05-07'], [day1, '2025-05-08']].forEach(([d, s]) => {
    svg.append('text').attr('x', x(d)).attr('y', p7.bot + 31.8)
        .attr('text-anchor', 'middle').attr('dominant-baseline', 'central')
        .attr('font-size', FS).text(s);
});
svg.append('text').attr('x', (X0 + X1) / 2).attr('y', p7.bot + 51)
    .attr('text-anchor', 'middle').attr('dominant-baseline', 'central')
    .attr('font-size', FS).text('Time [UTC]');
</script>
</body>
</html>
